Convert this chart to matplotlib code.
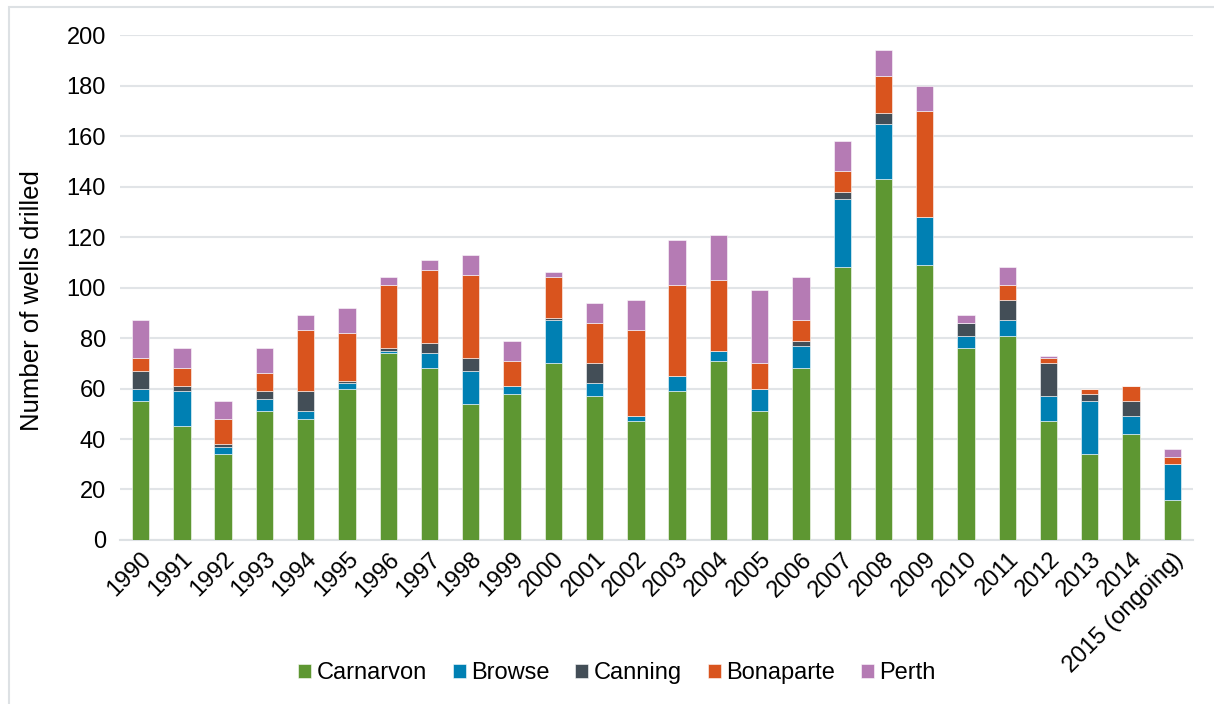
import numpy as np
import matplotlib
matplotlib.use('Agg')
import matplotlib.pyplot as plt
from matplotlib.patches import Rectangle

plt.rcParams['font.family'] = ['Liberation Sans', 'DejaVu Sans']

years = ['1990', '1991', '1992', '1993', '1994', '1995', '1996', '1997',
         '1998', '1999', '2000', '2001', '2002', '2003', '2004', '2005',
         '2006', '2007', '2008', '2009', '2010', '2011', '2012', '2013',
         '2014', '2015 (ongoing)']

# wells drilled per basin
carnarvon = [55, 45, 34, 51, 48, 60, 74, 68, 54, 58, 70, 57, 47, 59, 71, 51,
             68, 108, 143, 109, 76, 81, 47, 34, 42, 16]
browse = [5, 14, 3, 5, 3, 2, 1, 6, 13, 3, 17, 5, 2, 6, 4, 9,
          9, 27, 22, 19, 5, 6, 10, 21, 7, 14]
canning = [7, 2, 1, 3, 8, 1, 1, 4, 5, 0, 1, 8, 0, 0, 0, 0,
           2, 3, 4, 0, 5, 8, 13, 3, 6, 0]
bonaparte = [5, 7, 10, 7, 24, 19, 25, 29, 33, 10, 16, 16, 34, 36, 28, 10,
             8, 8, 15, 42, 0, 6, 2, 2, 6, 3]
perth = [15, 8, 7, 10, 6, 10, 3, 4, 8, 8, 2, 8, 12, 18, 18, 29,
         17, 12, 10, 10, 3, 7, 1, 0, 0, 3]

series = [('Carnarvon', carnarvon, '#5E9732'),
          ('Browse', browse, '#0080B3'),
          ('Canning', canning, '#434E57'),
          ('Bonaparte', bonaparte, '#D9541E'),
          ('Perth', perth, '#B57BB4')]

fig = plt.figure(figsize=(12.14, 7.04), dpi=100)
ax = fig.add_axes([0.0988, 0.233, 0.8839, 0.717])

# light frame round the chart area
fig.patches.append(Rectangle((9 / 1214, -0.05), 1.2, 1 - 7 / 704 + 0.05,
                             transform=fig.transFigure, fill=False,
                             edgecolor='#DDE1E4', linewidth=1.5))

x = np.arange(len(years))
bottom = np.zeros(len(years))
for name, vals, color in series:
    vals = np.array(vals, dtype=float)
    ax.bar(x, vals, width=0.42, bottom=bottom, color=color, label=name,
           edgecolor=(1, 1, 1, 0.55), linewidth=0.7, zorder=3)
    bottom += vals

ax.set_xlim(-0.5, len(years) - 0.5)
ax.set_ylim(0, 200)
ax.set_yticks(np.arange(0, 201, 20))
ax.yaxis.grid(True, color='#E1E4E7', linewidth=1.5, zorder=0)
ax.set_axisbelow(True)
for s in ['top', 'right', 'left']:
    ax.spines[s].set_visible(False)
ax.spines['bottom'].set_color('#DDE1E4')
ax.spines['bottom'].set_linewidth(1.5)
ax.tick_params(axis='both', length=0, labelsize=17, pad=10)
ax.tick_params(axis='x', pad=6)

ax.set_xticks(x)
ax.set_xticklabels(years, rotation=45, ha='right', va='top',
                   rotation_mode='anchor')
ax.set_ylabel('Number of wells drilled', fontsize=18.5)
ax.yaxis.set_label_coords(-0.071, 0.475)

ax.legend(loc='center', bbox_to_anchor=(0.508, 0.044),
          bbox_transform=fig.transFigure, ncol=5, frameon=False,
          fontsize=17, handlelength=0.55, handleheight=0.55,
          handletextpad=0.22, columnspacing=1.1)

fig.savefig('out.png', dpi=100)
